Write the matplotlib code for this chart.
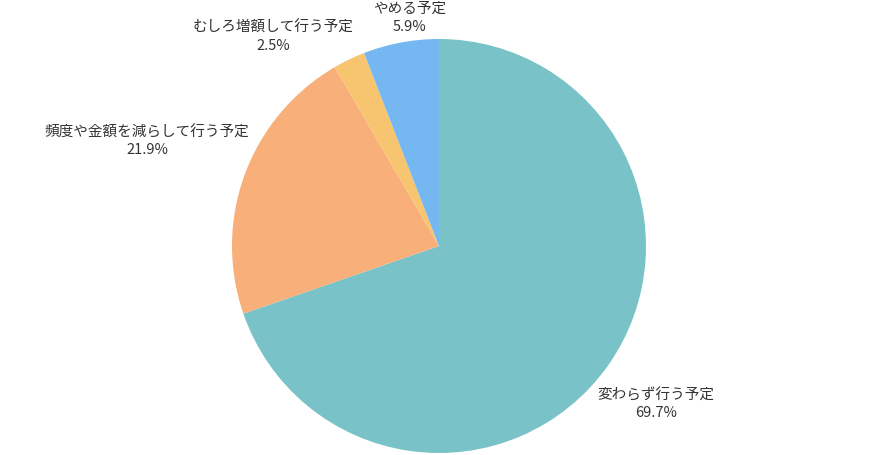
import matplotlib.pyplot as plt

plt.rcParams['font.family'] = ['Noto Sans CJK JP', 'DejaVu Sans']

labels = ['変わらず行う予定', '頻度や金額を減らして行う予定', 'むしろ増額して行う予定', 'やめる予定']
shares = [69.7, 21.9, 2.5, 5.9]
colors = ['#79c3c8', '#f8af79', '#f7c56f', '#75b8f1']

# label centres in pixel coords (x from left, y from top)
label_pos = [(656, 404), (147, 141), (273, 37), (410, 18)]

W, H = 870, 456
fig = plt.figure(figsize=(W / 100, H / 100), dpi=100)
ax = fig.add_axes([0, 0, 1, 1])

ax.pie(shares, colors=colors, startangle=90, counterclock=False,
       radius=207, center=(439, H - 247), frame=True,
       wedgeprops=dict(linewidth=0))
ax.set_xlim(0, W)
ax.set_ylim(0, H)
ax.set_aspect('equal')
ax.axis('off')

for lab, val, (x, y) in zip(labels, shares, label_pos):
    ax.text(x, H - y, f'{lab}\n{val:.1f}%', ha='center', va='center',
            fontsize=10.5, color='#333333', linespacing=1.35)

fig.savefig('out.png', dpi=100)
